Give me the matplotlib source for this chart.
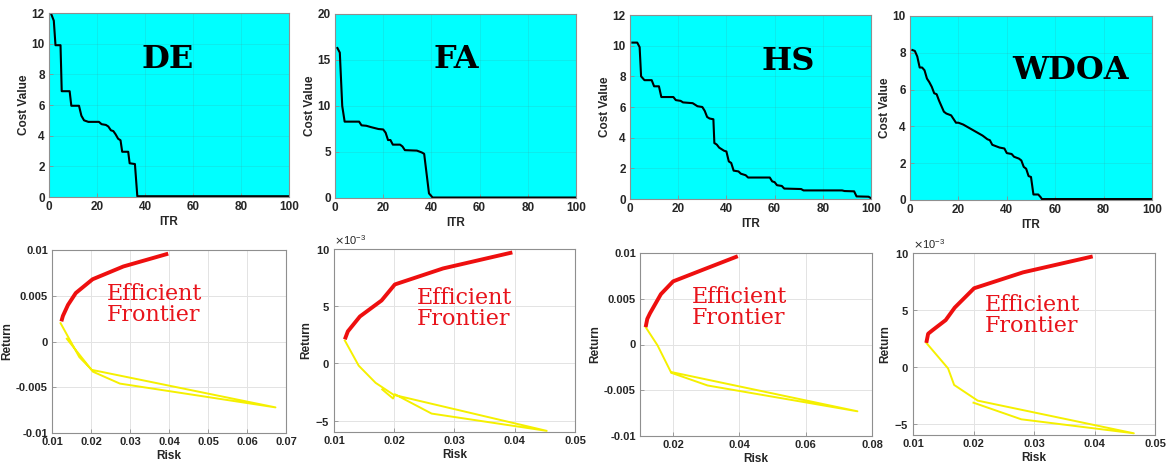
import matplotlib
matplotlib.use("Agg")
import matplotlib.pyplot as plt

plt.rcParams['font.family'] = ['Liberation Sans', 'DejaVu Sans']
plt.rcParams['axes.unicode_minus'] = False

# ---------------- data: convergence curves ----------------
de_itr = [1, 2, 2.7, 4.8, 5.3, 8.6, 9.3, 12.5, 13.5, 14.6, 16.4, 20.8, 21.9, 23.7, 24.7,
          25.8, 26.8, 27.7, 28.8, 29.8, 30.5, 33.0, 33.6, 35.8, 36.8, 100]
de_cost = [11.9, 11.5, 9.9, 9.9, 6.9, 6.9, 5.95, 5.95, 5.3, 5.0, 4.9, 4.9, 4.75, 4.7, 4.6,
           4.35, 4.3, 4.1, 3.8, 3.7, 2.95, 2.95, 2.2, 2.15, 0.05, 0.05]

fa_itr = [1, 2, 3, 4, 10, 11, 13, 15, 18, 20, 21, 22, 23, 24, 27, 28, 29, 34, 36, 37,
          39, 40.5, 100]
fa_cost = [16.3, 15.8, 10.0, 8.3, 8.3, 7.9, 7.85, 7.7, 7.5, 7.45, 7.1, 6.3, 6.3, 5.8, 5.8,
           5.6, 5.2, 5.15, 4.95, 4.8, 0.5, 0.05, 0.05]

hs_itr = [1, 3, 4, 4.6, 6, 9, 10, 12, 13, 18, 19, 21, 22, 26, 28, 30, 31, 32, 33, 34.6,
          35, 36, 37, 38, 39, 40, 41, 42, 43, 45, 46, 48, 49, 58, 59, 60, 61, 63, 64, 71,
          72, 88, 89, 93, 94, 99, 100]
hs_cost = [10.2, 10.2, 9.9, 8.0, 7.75, 7.75, 7.35, 7.35, 6.65, 6.65, 6.45, 6.4, 6.3, 6.25,
           6.05, 6.0, 5.75, 5.35, 5.25, 5.2, 3.65, 3.55, 3.35, 3.25, 3.15, 3.1, 2.45, 2.35,
           1.85, 1.8, 1.65, 1.55, 1.4, 1.4, 1.15, 1.1, 0.9, 0.85, 0.68, 0.65, 0.56, 0.56,
           0.52, 0.5, 0.17, 0.15, 0.05]

wdoa_itr = [1, 2, 3, 4, 5, 6, 7, 8, 9, 10, 11, 12, 13, 14, 15, 16, 17, 18, 19, 20, 22, 24,
            26, 28, 30, 31, 32, 33, 34, 35, 37, 39, 40, 42, 43, 45, 46, 47, 48, 49, 50, 51,
            53, 54, 54.5, 100]
wdoa_cost = [8.15, 8.1, 7.8, 7.2, 7.2, 7.05, 6.6, 6.4, 6.15, 5.8, 5.75, 5.4, 5.1, 4.8, 4.7,
             4.65, 4.6, 4.4, 4.2, 4.2, 4.1, 3.95, 3.8, 3.65, 3.5, 3.4, 3.3, 3.25, 3.0, 2.95,
             2.85, 2.8, 2.55, 2.5, 2.35, 2.25, 2.15, 1.8, 1.7, 1.3, 1.25, 0.3, 0.3, 0.15,
             0.05, 0.05]

# ---------------- data: efficient frontiers ----------------
de_eff_risk = [0.0124, 0.0128, 0.0141, 0.0161, 0.0204, 0.0283, 0.0398]
de_eff_ret = [0.0022, 0.0028, 0.0040, 0.0053, 0.0068, 0.0082, 0.0096]
de_in_risk = [0.0122, 0.0170, 0.0202, 0.0673, 0.0274, 0.0205, 0.0138]
de_in_ret = [0.0020, -0.0017, -0.0031, -0.0072, -0.0046, -0.0033, 0.0003]

fa_eff_risk = [0.0118, 0.0123, 0.0143, 0.0179, 0.0201, 0.0281, 0.0396]
fa_eff_ret = [0.0021, 0.0028, 0.0041, 0.0055, 0.0069, 0.0083, 0.0097]
fa_in_risk = [0.0118, 0.0141, 0.0169, 0.0199, 0.0453, 0.0262, 0.0201, 0.0198, 0.0180]
fa_in_ret = [0.0020, -0.0002, -0.0017, -0.00275, -0.0059, -0.00439, -0.0027, -0.00307,
             -0.00228]

hs_eff_risk = [0.0117, 0.0122, 0.0130, 0.0163, 0.0200, 0.0299, 0.0395]
hs_eff_ret = [0.0019, 0.0028, 0.0034, 0.0055, 0.0069, 0.0083, 0.00965]
hs_in_risk = [0.0117, 0.0153, 0.0193, 0.0756, 0.0304, 0.0195]
hs_in_ret = [0.0019, -0.0001, -0.0030, -0.0073, -0.00448, -0.0031]

wdoa_eff_risk = [0.0122, 0.0125, 0.0132, 0.0154, 0.0169, 0.0201, 0.0282, 0.0397]
wdoa_eff_ret = [0.0021, 0.0029, 0.0032, 0.0041, 0.0052, 0.0069, 0.0083, 0.0097]
wdoa_in_risk = [0.0122, 0.0158, 0.0168, 0.0207, 0.0465, 0.0279, 0.0200]
wdoa_in_ret = [0.0021, -0.00015, -0.0016, -0.00298, -0.00585, -0.00462, -0.00316]

names = ["DE", "FA", "HS", "WDOA"]

W, H = 1167, 467
fig = plt.figure(figsize=(W / 100, H / 100), dpi=100)


def rect(l, r, t, b):
    return [l / W, 1 - b / H, (r - l) / W, (b - t) / H]


top_rects = [rect(49, 289, 13, 197), rect(335, 576, 14, 198),
             rect(630, 871, 15, 199), rect(910, 1152, 16, 200)]
bot_rects = [rect(52, 286, 250, 433), rect(334, 575, 249, 432),
             rect(640, 872, 253, 436), rect(913, 1155, 253, 435)]

FRAME = '#8f8f8f'
TXT = '#262626'


def style(ax, bg, fs):
    ax.set_facecolor(bg)
    for s in ax.spines.values():
        s.set_color(FRAME)
        s.set_linewidth(0.8)
    ax.tick_params(direction='in', length=3, width=0.6, color=FRAME,
                   labelsize=fs, labelcolor=TXT, pad=3)
    for lab in ax.get_xticklabels() + ax.get_yticklabels():
        lab.set_fontweight('bold')
    ax.set_axisbelow(True)


curves = [(de_itr, de_cost), (fa_itr, fa_cost), (hs_itr, hs_cost), (wdoa_itr, wdoa_cost)]
ylims = [(0, 12), (0, 20), (0, 12), (0, 10)]
ytk = [range(0, 13, 2), range(0, 21, 5), range(0, 13, 2), range(0, 11, 2)]
name_pos = [(49.6, 8.95), (50.5, 15.0), (65.7, 8.96), (66.2, 7.05)]

for i in range(4):
    ax = fig.add_axes(top_rects[i])
    x, y = curves[i]
    ax.plot(x, y, color='black', lw=1.5)
    ax.set_xlim(0, 100)
    ax.set_ylim(*ylims[i])
    ax.set_xticks(range(0, 101, 20))
    ax.set_yticks(list(ytk[i]))
    ax.grid(True, color='#3aa8a8', alpha=0.25, lw=0.6)
    style(ax, '#00ffff', 8.5)
    ax.set_xlabel('ITR', fontsize=8.5, fontweight='bold', color=TXT, labelpad=2)
    ax.set_ylabel('Cost Value', fontsize=8.5, fontweight='bold', color=TXT, labelpad=1)
    ax.text(name_pos[i][0], name_pos[i][1], names[i], ha='center', va='center',
            fontsize=23, fontweight='bold', family=['DejaVu Serif'], color='black')

fronts = [(de_eff_risk, de_eff_ret, de_in_risk, de_in_ret),
          (fa_eff_risk, fa_eff_ret, fa_in_risk, fa_in_ret),
          (hs_eff_risk, hs_eff_ret, hs_in_risk, hs_in_ret),
          (wdoa_eff_risk, wdoa_eff_ret, wdoa_in_risk, wdoa_in_ret)]
xlims = [(0.01, 0.07), (0.01, 0.05), (0.01, 0.08), (0.01, 0.05)]
xtks = [[0.01, 0.02, 0.03, 0.04, 0.05, 0.06, 0.07], [0.01, 0.02, 0.03, 0.04, 0.05],
        [0.02, 0.04, 0.06, 0.08], [0.01, 0.02, 0.03, 0.04, 0.05]]
bylims = [(-0.01, 0.01), (-0.006, 0.010), (-0.01, 0.01), (-0.006, 0.010)]
bytks = [[-0.01, -0.005, 0, 0.005, 0.01], [-0.005, 0, 0.005, 0.010],
         [-0.01, -0.005, 0, 0.005, 0.01], [-0.005, 0, 0.005, 0.010]]
ef_pos = [(0.0240, 0.0040), (0.0237, 0.00482), (0.0257, 0.00408), (0.0218, 0.00453)]

for i in range(4):
    ax = fig.add_axes(bot_rects[i])
    er, et, ir, it = fronts[i]
    ax.plot(ir, it, color='#f5f000', lw=1.4)
    ax.plot(er, et, color='#ee0f0f', lw=2.8, solid_capstyle='butt')
    ax.set_xlim(*xlims[i])
    ax.set_ylim(*bylims[i])
    ax.set_xticks(xtks[i])
    ax.set_yticks(bytks[i])
    if i in (1, 3):
        ax.ticklabel_format(axis='y', style='sci', scilimits=(-3, -3), useMathText=True)
        ax.yaxis.get_offset_text().set_fontsize(8)
        ax.yaxis.get_offset_text().set_color(TXT)
    else:
        ax.set_yticklabels(['-0.01', '-0.005', '0', '0.005', '0.01'])
    ax.set_xticklabels([('%g' % v) for v in xtks[i]])
    ax.grid(True, color='#e3e3e3', lw=0.7)
    style(ax, 'white', 8)
    ax.set_xlabel('Risk', fontsize=8.5, fontweight='bold', color=TXT, labelpad=2)
    ax.set_ylabel('Return', fontsize=8.5, fontweight='bold', color=TXT, labelpad=2)
    ax.text(ef_pos[i][0], ef_pos[i][1], 'Efficient\nFrontier', ha='left', va='center',
            fontsize=16, family=['DejaVu Serif'], color='#e8141c', linespacing=0.95)

fig.savefig('out.png', dpi=100)
